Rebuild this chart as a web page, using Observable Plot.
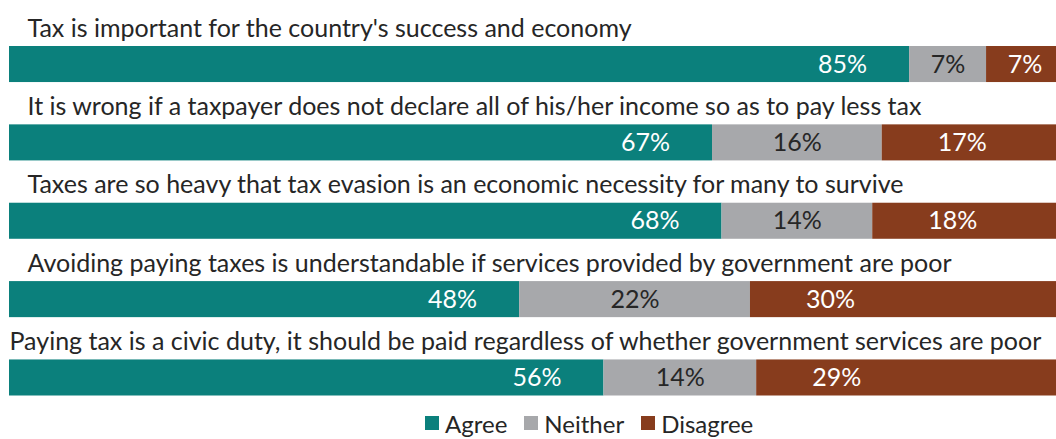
<!DOCTYPE html>
<html>
<head>
<meta charset="utf-8">
<script src="https://cdn.jsdelivr.net/npm/d3@7"></script>
<script src="https://cdn.jsdelivr.net/npm/@observablehq/plot@0.6"></script>
<style>
  html, body { margin: 0; padding: 0; background: #fff; overflow: hidden; }
  #chart svg { display: block; }
  .lg-swatches { font-family: Lato, sans-serif !important; font-size: 24px !important; color: #262626 !important;
    min-height: 30px !important; height: 30px; margin: 0 !important; padding-left: 425px; justify-content: flex-start !important; }
  .lg-swatch { margin-right: 17px !important; }
  .lg-swatch > svg { margin-right: 6px !important; }
</style>
</head>
<body>
<div id="chart"></div>
<script>
const questions = [
  "Tax is important for the country's success and economy",
  "It is wrong if a taxpayer does not declare all of his/her income so as to pay less tax",
  "Taxes are so heavy that tax evasion is an economic necessity for many to survive",
  "Avoiding paying taxes is understandable if services provided by government are poor",
  "Paying tax is a civic duty, it should be paid regardless of whether government services are poor"
];
const categories = ["Agree", "Neither", "Disagree"];
const agree    = [85.4, 66.7, 67.6, 48.4, 56.4];
const neither  = [7.3, 16.1, 14.3, 21.9, 14.49];
const disagree = [7.3, 17.2, 18.1, 29.7, 29.1];
const colors = ["#0b807c", "#a7a8ab", "#873c1d"];

const series = [agree, neither, disagree];
const rows = [];
questions.forEach((q, i) => {
  let start = 0;
  categories.forEach((c, k) => {
    const v = series[k][i];
    rows.push({question: q, category: c, value: v, start, end: start + v, label: Math.round(v) + "%"});
    start += v;
  });
});
const agreeRows = rows.filter(d => d.category === "Agree");
const neitherRows = rows.filter(d => d.category === "Neither");
const disagreeRows = rows.filter(d => d.category === "Disagree");
const titleRows = questions.map((q, i) => ({question: q, i}));

const font = "Lato, sans-serif";
const fs = 25;
const chart = Plot.plot({
  width: 1056,
  height: 408,
  marginLeft: 9,
  marginRight: 0,
  marginTop: 0,
  marginBottom: 0,
  style: {fontFamily: font, background: "#fff"},
  x: {domain: [0, 100], range: [9, 1063], axis: null},
  y: {type: "band", domain: questions, range: [46, 395.5], paddingInner: 0.54, paddingOuter: 0, round: false, axis: null},
  color: {domain: categories, range: colors},
  marks: [
    Plot.barX(rows, {x1: "start", x2: "end", y: "question", fill: "category"}),
    Plot.text(agreeRows, {x: "end", y: "question", text: "label", dx: -67, fill: "#fff", fontSize: fs, fontFamily: font}),
    Plot.text(neitherRows, {x: d => (d.start + d.end) / 2, y: "question", text: "label", fill: "#262626", fontSize: fs, fontFamily: font}),
    Plot.text(disagreeRows, {x: d => d.start + Math.min(d.value / 2, 7.6), y: "question", text: "label", fill: "#fff", fontSize: fs, fontFamily: font}),
    Plot.text(titleRows.filter(d => d.i < 4), {x: () => 0, y: "question", text: "question", textAnchor: "start", lineAnchor: "bottom", dx: 18, dy: -28, fill: "#262626", fontSize: fs, fontFamily: font}),
    Plot.text(titleRows.filter(d => d.i >= 4), {x: () => 0, y: "question", text: "question", textAnchor: "start", lineAnchor: "bottom", dy: -28, fill: "#262626", fontSize: fs, fontFamily: font})
  ]
});
document.getElementById("chart").appendChild(chart);
const legend = Plot.legend({color: {domain: categories, range: colors}, legend: "swatches", swatchSize: 14, className: "lg"});
document.getElementById("chart").appendChild(legend);
</script>
</body>
</html>
